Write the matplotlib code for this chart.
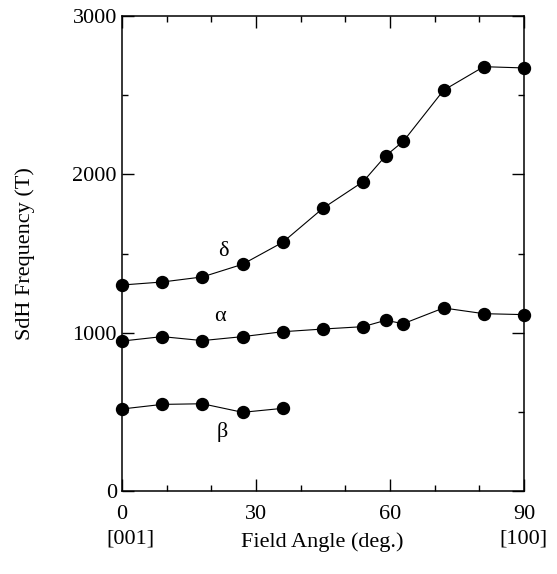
import matplotlib
matplotlib.use('Agg')
import matplotlib.pyplot as plt
from matplotlib.ticker import MultipleLocator

# field angle (deg) and SdH frequencies (T)
delta_angle = [0, 9, 18, 27, 36, 45, 54, 59, 63, 72, 81, 90]
delta_freq = [1301, 1320, 1352, 1432, 1571, 1786, 1954, 2116, 2209, 2531, 2680, 2672]

alpha_angle = [0, 9, 18, 27, 36, 45, 54, 59, 63, 72, 81, 90]
alpha_freq = [947, 975, 950, 975, 1006, 1023, 1038, 1078, 1057, 1156, 1120, 1114]

beta_angle = [0, 9, 18, 27, 36]
beta_freq = [518, 547, 551, 497, 522]

plt.rcParams['font.family'] = ['Liberation Serif', 'DejaVu Serif']
plt.rcParams['font.size'] = 16

fig = plt.figure(figsize=(5.57, 5.74), dpi=100)
ax = fig.add_axes([0.219, 0.1446, 0.7217, 0.8275])

for xs, ys in [(delta_angle, delta_freq), (alpha_angle, alpha_freq), (beta_angle, beta_freq)]:
    ax.plot(xs, ys, color='black', linewidth=0.8, marker='o', markersize=8.6,
            markerfacecolor='black', markeredgecolor='black', clip_on=False, zorder=3)

ax.text(22.6, 1510, 'δ', ha='center', va='center', fontsize=16)
ax.text(21.9, 1099, 'α', ha='center', va='center', fontsize=16)
ax.text(22.4, 373, 'β', ha='center', va='center', fontsize=16)

ax.set_xlim(0, 90)
ax.set_ylim(0, 3000)
ax.xaxis.set_major_locator(MultipleLocator(30))
ax.xaxis.set_minor_locator(MultipleLocator(10))
ax.yaxis.set_major_locator(MultipleLocator(1000))
ax.yaxis.set_minor_locator(MultipleLocator(500))

ax.tick_params(which='both', direction='in', top=True, right=True, width=1)
ax.tick_params(which='major', length=8.6)
ax.tick_params(which='minor', length=4.3)
ax.tick_params(axis='x', which='major', pad=10, labelsize=16)
ax.tick_params(axis='y', which='major', pad=3.6, labelsize=16)
for s in ax.spines.values():
    s.set_linewidth(1.1)

ax.set_xlabel('Field Angle (deg.)', fontsize=16, va='top')
ax.xaxis.set_label_coords(0.499, -0.086)
ax.set_ylabel('SdH Frequency (T)', fontsize=16, va='center')
ax.yaxis.set_label_coords(-0.241, 0.5)

trans = ax.get_xaxis_transform()
ax.text(2.0, -0.082, '[001]', transform=trans, ha='center', va='top', fontsize=16)
ax.text(89.9, -0.082, '[100]', transform=trans, ha='center', va='top', fontsize=16)

fig.savefig('out.png', dpi=100)
